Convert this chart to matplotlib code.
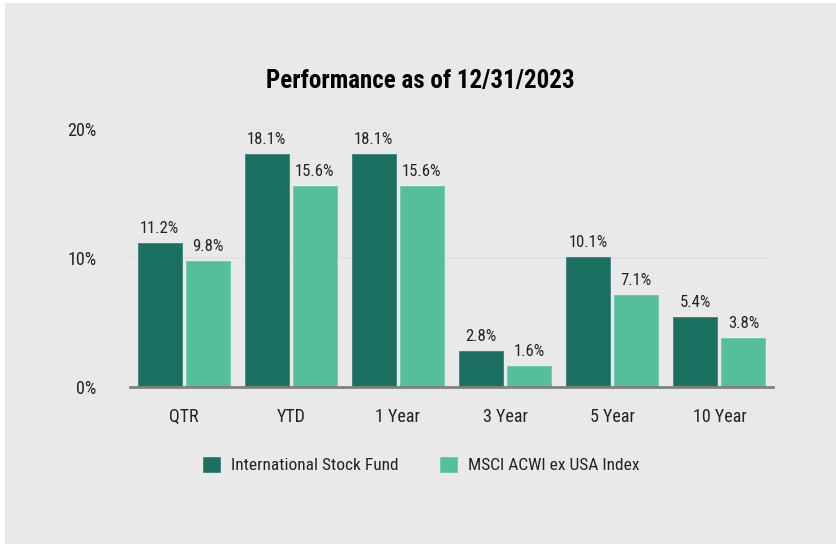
import numpy as np
import matplotlib
matplotlib.use('Agg')
import matplotlib.pyplot as plt
from matplotlib import font_manager
from matplotlib.patches import Rectangle

# data
categories = ['QTR', 'YTD', '1 Year', '3 Year', '5 Year', '10 Year']
fund = [11.2, 18.1, 18.1, 2.8, 10.1, 5.4]
index = [9.8, 15.6, 15.6, 1.6, 7.1, 3.8]
series_names = ['International Stock Fund', 'MSCI ACWI ex USA Index']
y_ticks = [0, 10, 20]

# pick a narrow sans (reference looks like Arial Narrow)
names = {f.name for f in font_manager.fontManager.ttflist}
chosen = 'Liberation Sans'
for fam in ['Liberation Sans Narrow', 'Arial Narrow', 'Roboto Condensed',
            'PT Sans Narrow', 'Archivo Narrow', 'Pragati Narrow']:
    if fam in names:
        chosen = fam
        break
plt.rcParams['font.family'] = [chosen, 'DejaVu Sans']

dark = '#1c7062'
light = '#55bf9b'
bg = '#e9e9e9'

fig = plt.figure(figsize=(8.36, 5.44), dpi=100)
fig.patch.set_facecolor('white')
fig.patches.append(Rectangle((5 / 836, 0), 1, 1 - 3 / 544, transform=fig.transFigure,
                             facecolor=bg, edgecolor='none', zorder=-10))

ax = fig.add_axes([130 / 836, 157 / 544, 643 / 836, 258 / 544])
ax.set_facecolor('none')

x = np.arange(len(categories))
w = 0.41
off = 0.224
b1 = ax.bar(x - off, fund, w, color=dark, edgecolor='#3a8276', linewidth=0.6, label=series_names[0], zorder=3)
b2 = ax.bar(x + off, index, w, color=light, edgecolor='#6fcaa9', linewidth=0.6, label=series_names[1], zorder=3)

for bars, vals in ((b1, fund), (b2, index)):
    for r, v in zip(bars, vals):
        ax.annotate(f'{v:.1f}%', (r.get_x() + r.get_width() / 2, v),
                    xytext=(0, 5), textcoords='offset points',
                    ha='center', va='bottom', fontsize=12, color='#222222')

ax.set_xlim(-0.5, len(categories) - 0.5)
ax.set_ylim(0, 20)
ax.set_yticks(y_ticks)
ax.set_yticklabels([f'{t}%' for t in y_ticks])
ax.set_xticks(x)
ax.set_xticklabels(categories)
ax.tick_params(axis='both', length=0, labelsize=13, colors='#222222')
ax.tick_params(axis='y', pad=24)
ax.tick_params(axis='x', pad=15)
ax.yaxis.grid(True, color='#e1e1e1', linewidth=1.2, zorder=0)
for s in ['top', 'right', 'left']:
    ax.spines[s].set_visible(False)
ax.spines['bottom'].set_color('#808080')
ax.spines['bottom'].set_linewidth(2)
ax.spines['bottom'].set_zorder(4)

fig.text(420 / 836, 1 - 81 / 544, 'Performance as of 12/31/2023', ha='center', va='center',
         fontsize=18, fontweight='bold', color='black')

fig.legend(handles=[b1, b2], labels=series_names, loc='center', ncol=2,
           bbox_to_anchor=(421 / 836, 1 - 465 / 544), frameon=False,
           fontsize=12.5, handlelength=1.0, handleheight=1.0, handletextpad=0.6,
           columnspacing=2.4, labelcolor='#222222')

fig.savefig('out.png', dpi=100, facecolor=fig.get_facecolor())
